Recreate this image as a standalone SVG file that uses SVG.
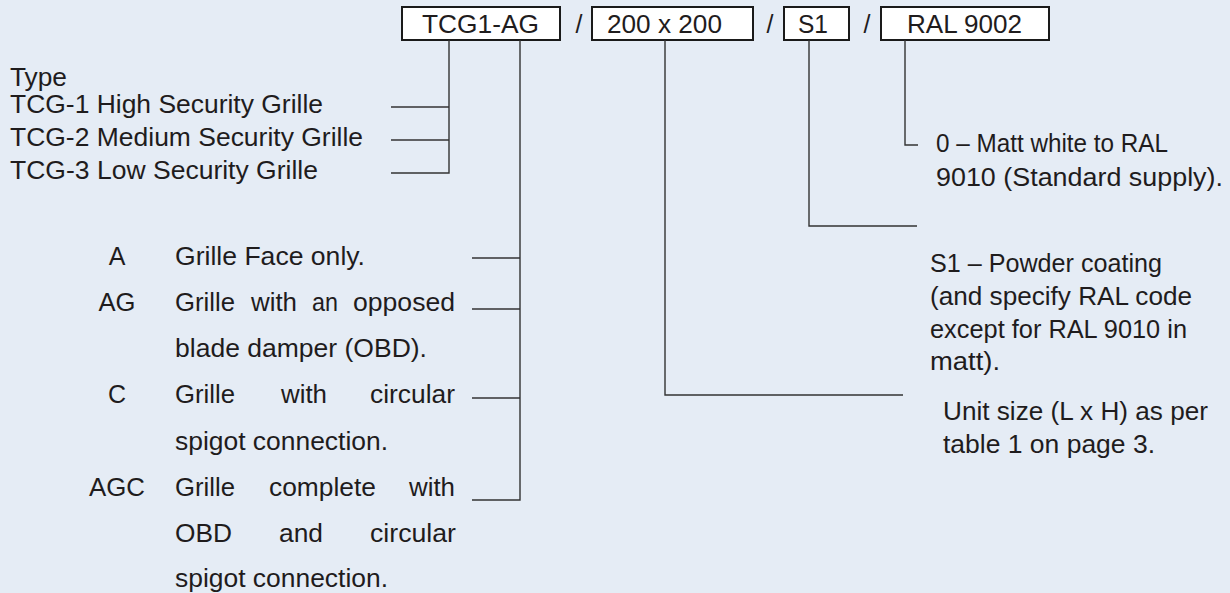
<svg xmlns="http://www.w3.org/2000/svg" width="1230" height="593" viewBox="0 0 1230 593">
<style>
text{font-family:"Liberation Sans",Arial,sans-serif;font-size:25px;fill:#1f1c1d}
.mid{text-anchor:middle}
.box{fill:#ffffff;stroke:#1a1a1a;stroke-width:2}
.ln{fill:none;stroke:#333333;stroke-width:1.4}
</style>
<rect x="0" y="0" width="1230" height="593" fill="#e5ecf5"/>
<g id="code-boxes">
<g id="box-model"><rect class="box" x="402" y="7" width="158" height="33"/><text x="422" y="33" textLength="117" lengthAdjust="spacingAndGlyphs">TCG1-AG</text></g>
<text class="mid" x="579" y="33">/</text>
<g id="box-size"><rect class="box" x="592" y="7" width="161" height="33"/><text x="607" y="33" textLength="115" lengthAdjust="spacingAndGlyphs">200 x 200</text></g>
<text class="mid" x="770" y="33">/</text>
<g id="box-finish"><rect class="box" x="784" y="7" width="65" height="33"/><text x="798" y="33" textLength="30" lengthAdjust="spacingAndGlyphs">S1</text></g>
<text class="mid" x="867" y="33">/</text>
<g id="box-colour"><rect class="box" x="881" y="7" width="168" height="33"/><text x="907" y="33" textLength="115" lengthAdjust="spacingAndGlyphs">RAL 9002</text></g>
</g>
<g id="connectors">
<polyline class="ln" points="449,40 449,173 391,173"/>
<line class="ln" x1="391" y1="107" x2="449" y2="107"/>
<line class="ln" x1="391" y1="140" x2="449" y2="140"/>
<polyline class="ln" points="520,40 520,500 472,500"/>
<line class="ln" x1="472" y1="258" x2="520" y2="258"/>
<line class="ln" x1="472" y1="309" x2="520" y2="309"/>
<line class="ln" x1="472" y1="398" x2="520" y2="398"/>
<polyline class="ln" points="665,40 665,395 903,395"/>
<polyline class="ln" points="809,40 809,226 917,226"/>
<polyline class="ln" points="905,40 905,145 918,145"/>
</g>
<g id="type-list">
<text x="10" y="86" textLength="57" lengthAdjust="spacingAndGlyphs">Type</text>
<text x="10" y="113" textLength="313" lengthAdjust="spacingAndGlyphs">TCG-1 High Security Grille</text>
<text x="10" y="146" textLength="353" lengthAdjust="spacingAndGlyphs">TCG-2 Medium Security Grille</text>
<text x="10" y="179" textLength="308" lengthAdjust="spacingAndGlyphs">TCG-3 Low Security Grille</text>
</g>
<g id="variant-list">
<text class="mid" x="117" y="265">A</text>
<text x="175" y="265" textLength="190" lengthAdjust="spacingAndGlyphs">Grille Face only.</text>
<text class="mid" x="117" y="311" textLength="37" lengthAdjust="spacingAndGlyphs">AG</text>
<text y="311"><tspan x="175" textLength="60" lengthAdjust="spacingAndGlyphs">Grille</tspan> <tspan x="251" textLength="46" lengthAdjust="spacingAndGlyphs">with</tspan> <tspan x="312" textLength="26" lengthAdjust="spacingAndGlyphs">an</tspan> <tspan x="353" textLength="102" lengthAdjust="spacingAndGlyphs">opposed</tspan></text>
<text x="175" y="357" textLength="252" lengthAdjust="spacingAndGlyphs">blade damper (OBD).</text>
<text class="mid" x="117" y="403">C</text>
<text y="403"><tspan x="175" textLength="60" lengthAdjust="spacingAndGlyphs">Grille</tspan> <tspan x="281" textLength="46" lengthAdjust="spacingAndGlyphs">with</tspan> <tspan x="370" textLength="85" lengthAdjust="spacingAndGlyphs">circular</tspan></text>
<text x="175" y="450" textLength="213" lengthAdjust="spacingAndGlyphs">spigot connection.</text>
<text class="mid" x="117" y="496" textLength="56" lengthAdjust="spacingAndGlyphs">AGC</text>
<text y="496"><tspan x="175" textLength="60" lengthAdjust="spacingAndGlyphs">Grille</tspan> <tspan x="269" textLength="107" lengthAdjust="spacingAndGlyphs">complete</tspan> <tspan x="409" textLength="46" lengthAdjust="spacingAndGlyphs">with</tspan></text>
<text y="542"><tspan x="175" textLength="57" lengthAdjust="spacingAndGlyphs">OBD</tspan> <tspan x="279" textLength="44" lengthAdjust="spacingAndGlyphs">and</tspan> <tspan x="370" textLength="86" lengthAdjust="spacingAndGlyphs">circular</tspan></text>
<text x="175" y="587" textLength="213" lengthAdjust="spacingAndGlyphs">spigot connection.</text>
</g>
<g id="colour-note">
<text x="936" y="152" textLength="232" lengthAdjust="spacingAndGlyphs">0 – Matt white to RAL</text>
<text x="936" y="186" textLength="287" lengthAdjust="spacingAndGlyphs">9010 (Standard supply).</text>
</g>
<g id="finish-note">
<text x="930" y="272" textLength="232" lengthAdjust="spacingAndGlyphs">S1 – Powder coating</text>
<text x="930" y="305" textLength="262" lengthAdjust="spacingAndGlyphs">(and specify RAL code</text>
<text x="930" y="338" textLength="257" lengthAdjust="spacingAndGlyphs">except for RAL 9010 in</text>
<text x="930" y="370" textLength="70" lengthAdjust="spacingAndGlyphs">matt).</text>
</g>
<g id="size-note">
<text x="943" y="420" textLength="265" lengthAdjust="spacingAndGlyphs">Unit size (L x H) as per</text>
<text x="943" y="453" textLength="212" lengthAdjust="spacingAndGlyphs">table 1 on page 3.</text>
</g>
</svg>
